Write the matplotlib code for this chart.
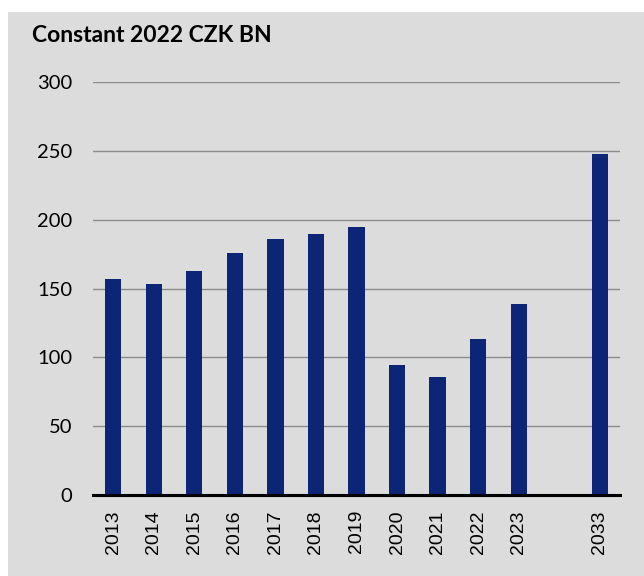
import matplotlib
matplotlib.use("Agg")
import matplotlib.pyplot as plt
from matplotlib.patches import Rectangle
import numpy as np

years = ['2013', '2014', '2015', '2016', '2017', '2018', '2019',
         '2020', '2021', '2022', '2023', '2033']
positions = [0, 1, 2, 3, 4, 5, 6, 7, 8, 9, 10, 12]
values = [157, 153, 163, 176, 186, 189.5, 195, 94.5, 86, 113.5, 138.5, 248]
yticks = [0, 50, 100, 150, 200, 250, 300]

bar_color = '#0c2577'
panel_color = '#dcdcdc'

fig = plt.figure(figsize=(6.44, 5.76), dpi=100)
fig.patch.set_facecolor('white')
fig.patches.append(Rectangle((8 / 644, 0), 1 - 8 / 644, 1 - 12 / 576,
                             transform=fig.transFigure, facecolor=panel_color,
                             edgecolor='none', zorder=-10))

ax = fig.add_axes([93 / 644, 1 - 495 / 576, 527 / 644, 413 / 576])
ax.set_facecolor('none')

ax.bar(positions, values, width=0.4, color=bar_color, zorder=3)

ax.set_xlim(-0.5, 12.5)
ax.set_ylim(0, 300)
ax.set_yticks(yticks)
ax.set_yticklabels([str(v) for v in yticks], fontsize=14.5, family='Lato')
ax.set_xticks(positions)
ax.set_xticklabels(years, rotation=90, fontsize=14, family='Liberation Sans')

for y in yticks[1:]:
    ax.axhline(y, color='#8c8c8c', linewidth=1.0, zorder=1)
ax.axhline(0, color='black', linewidth=2.2, zorder=4, clip_on=False)

for s in ax.spines.values():
    s.set_visible(False)
ax.tick_params(axis='both', length=0)
ax.tick_params(axis='y', pad=21 * 0.72)
ax.tick_params(axis='x', pad=15 * 0.72)

fig.text(32 / 644, 1 - 42 / 576, 'Constant 2022 CZK BN', fontsize=16.5,
         fontweight='bold', family='Lato', ha='left', va='baseline')

fig.savefig('out.png', dpi=100)
